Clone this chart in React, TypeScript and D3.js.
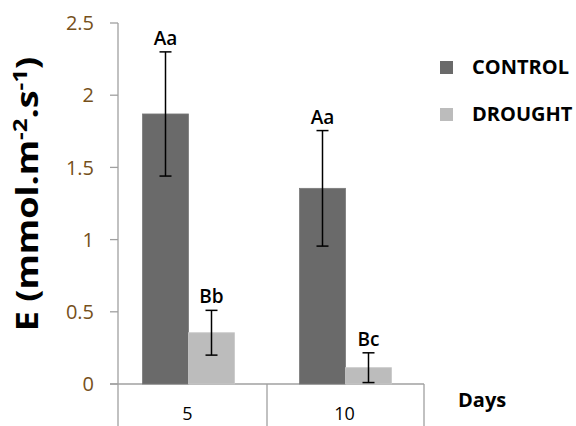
import React from "react";
import * as d3 from "d3";

const days = ["5", "10"];
const seriesNames = ["CONTROL", "DROUGHT"];
const controlValues = [1.87, 1.355];
const droughtValues = [0.355, 0.113];
const controlErrors = [0.43, 0.4];
const droughtErrors = [0.155, 0.103];
const controlLetters = ["Aa", "Aa"];
const droughtLetters = ["Bb", "Bc"];
const yTicks = [0, 0.5, 1, 1.5, 2, 2.5];
const colors = ["#6a6a6a", "#bcbcbc"];

const W = 576;
const H = 426;
const axisX = 118;
const font = "'Open Sans', 'DejaVu Sans', sans-serif";

export default function App() {
  const y = d3.scaleLinear().domain([0, 2.5]).range([384, 23]);
  const x = d3.scaleBand<string>().domain(days).range([110, 424]).paddingInner(0).paddingOuter(0);
  const sub = d3.scaleBand<string>().domain(seriesNames).range([0, 92]);
  const values = [controlValues, droughtValues];
  const errors = [controlErrors, droughtErrors];
  const letters = [controlLetters, droughtLetters];
  const axisColor = "#a0a0a0";
  const tickColor = "#76501a";

  return (
    <svg width={W} height={H} style={{ position: "absolute", left: 0, top: 0, background: "#fff" }}>
      <rect x={0} y={0} width={W} height={H} fill="#fff" />
      {/* y axis */}
      <line x1={axisX} x2={axisX} y1={y(2.5)} y2={H} stroke={axisColor} strokeWidth={1.3} />
      {yTicks.map((t) => (
        <g key={t}>
          <line x1={110} x2={axisX} y1={y(t)} y2={y(t)} stroke={axisColor} strokeWidth={1.3} />
          <text x={94} y={y(t)} dy="0.36em" textAnchor="end" fontFamily={font} fontSize={20} fill={tickColor}>
            {t}
          </text>
        </g>
      ))}
      {/* x axis */}
      <line x1={110} x2={x.range()[1]} y1={y(0)} y2={y(0)} stroke={axisColor} strokeWidth={1.3} />
      {days.map((d, i) => (
        <g key={d}>
          {i > 0 && (
            <line x1={x(d)!} x2={x(d)!} y1={y(0)} y2={H} stroke={axisColor} strokeWidth={1.3} />
          )}
          <text x={x(d)! + x.bandwidth() / 2 - 1} y={420} textAnchor="middle" fontFamily={font} fontSize={18} fill="#000">
            {d}
          </text>
        </g>
      ))}
      <line x1={x.range()[1]} x2={x.range()[1]} y1={y(0)} y2={H} stroke={axisColor} strokeWidth={1.3} />
      {/* bars */}
      {days.map((d, i) => {
        const gx = x(d)! + x.bandwidth() / 2 - 46;
        return (
          <g key={d}>
            {seriesNames.map((s, j) => {
              const v = values[j][i];
              const e = errors[j][i];
              const bx = gx + sub(s)!;
              const cx = bx + sub.bandwidth() / 2;
              const lo = Math.max(0, v - e);
              return (
                <g key={s}>
                  <rect x={bx} y={y(v)} width={sub.bandwidth()} height={y(0) - y(v)} fill={colors[j]} stroke={j === 0 ? "#7a7a7a" : "#c8c8c8"} strokeWidth={0.8} />
                  <line x1={cx} x2={cx} y1={y(v + e)} y2={y(lo)} stroke="#000" strokeWidth={1.5} />
                  <line x1={cx - 6} x2={cx + 6} y1={y(v + e)} y2={y(v + e)} stroke="#000" strokeWidth={1.5} />
                  {lo > 0 && <line x1={cx - 6} x2={cx + 6} y1={y(lo)} y2={y(lo)} stroke="#000" strokeWidth={1.5} />}
                  <text x={cx} y={y(v + e) - 7} textAnchor="middle" fontFamily={font} fontSize={19} fontWeight={600} fill="#000">
                    {letters[j][i]}
                  </text>
                </g>
              );
            })}
          </g>
        );
      })}
      {/* legend */}
      {seriesNames.map((s, j) => (
        <g key={s}>
          <rect x={440} y={61 + j * 47} width={13} height={13} fill={colors[j]} />
          <text x={472} y={74 + j * 47} fontFamily={font} fontSize={20} fontWeight={700} fill="#000">
            {s}
          </text>
        </g>
      ))}
      <text x={458} y={407} fontFamily={font} fontSize={20} fontWeight={700} fill="#000">
        Days
      </text>
      {/* y title */}
      <text transform={`translate(38,${194}) rotate(-90) scale(1.2,1)`} textAnchor="middle" fontFamily={font} fontSize={30} fontWeight={700} fill="#000">
        E (mmol.m
        <tspan dy={-11} fontSize={20}>-2</tspan>
        <tspan dy={11}>.s</tspan>
        <tspan dy={-11} fontSize={20}>-1</tspan>
        <tspan dy={11}>)</tspan>
      </text>
    </svg>
  );
}
